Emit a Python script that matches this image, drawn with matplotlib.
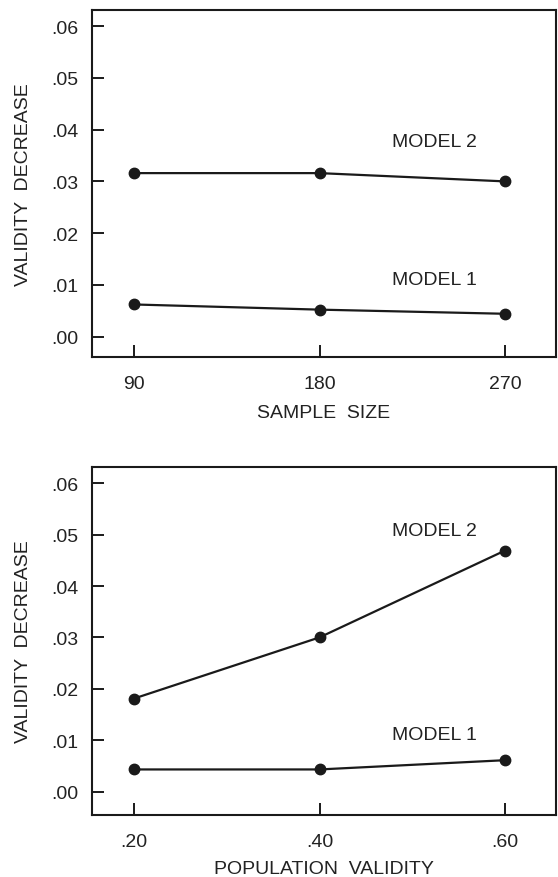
import matplotlib
matplotlib.use('Agg')
import matplotlib.pyplot as plt

plt.rcParams['font.family'] = ['Liberation Sans', 'DejaVu Sans']
plt.rcParams['font.size'] = 14

# top panel: validity decrease vs sample size
sample_sizes = [90, 180, 270]
sample_model1 = [0.0062, 0.0052, 0.0044]
sample_model2 = [0.0316, 0.0316, 0.0300]

# bottom panel: validity decrease vs population validity
pop_validity = [0.20, 0.40, 0.60]
pop_model1 = [0.0043, 0.0043, 0.0061]
pop_model2 = [0.0181, 0.0300, 0.0469]

y_ticks = [0.00, 0.01, 0.02, 0.03, 0.04, 0.05, 0.06]
y_tick_labels = ['.00', '.01', '.02', '.03', '.04', '.05', '.06']
pop_tick_labels = ['.20', '.40', '.60']

INK = '#1a1a1a'
TEXT = '#222222'


def style_axes(ax):
    for sp in ax.spines.values():
        sp.set_linewidth(1.5)
        sp.set_color(INK)
    ax.tick_params(direction='in', length=8.5, width=1.4, color=INK,
                   labelcolor=TEXT, labelsize=14)
    ax.tick_params(axis='y', pad=10)
    ax.tick_params(axis='x', pad=13)
    ax.set_yticks(y_ticks)
    ax.set_yticklabels(y_tick_labels)
    ax.set_ylabel('VALIDITY  DECREASE', color=TEXT, fontsize=14)
    ax.yaxis.set_label_coords(-0.129, 0.5)


def plot_models(ax, x, m1, m2):
    ax.plot(x, m1, '-o', color=INK, lw=1.6, ms=7.5)
    ax.plot(x, m2, '-o', color=INK, lw=1.6, ms=7.5)


fig = plt.figure(figsize=(5.58, 8.78), dpi=100)

ax1 = fig.add_axes([0.1649, 0.5926, 0.8315, 0.3952])
plot_models(ax1, sample_sizes, sample_model1, sample_model2)
ax1.set_xlim(69.6, 294.7)
ax1.set_ylim(-0.0039, 0.0632)
ax1.set_xticks(sample_sizes)
ax1.set_xticklabels([str(s) for s in sample_sizes])
style_axes(ax1)
ax1.set_xlabel('SAMPLE  SIZE', color=TEXT, fontsize=14)
ax1.xaxis.set_label_coords(0.5, -0.136)
ax1.text(235.5, 0.0378, 'MODEL 2', ha='center', va='center', color=TEXT, fontsize=14)
ax1.text(235.5, 0.0110, 'MODEL 1', ha='center', va='center', color=TEXT, fontsize=14)

ax2 = fig.add_axes([0.1649, 0.0710, 0.8315, 0.3956])
plot_models(ax2, pop_validity, pop_model1, pop_model2)
ax2.set_xlim(0.1547, 0.655)
ax2.set_ylim(-0.0045, 0.0631)
ax2.set_xticks(pop_validity)
ax2.set_xticklabels(pop_tick_labels)
style_axes(ax2)
ax2.set_xlabel('POPULATION  VALIDITY', color=TEXT, fontsize=14)
ax2.xaxis.set_label_coords(0.5, -0.130)
ax2.text(0.5235, 0.0509, 'MODEL 2', ha='center', va='center', color=TEXT, fontsize=14)
ax2.text(0.5235, 0.0111, 'MODEL 1', ha='center', va='center', color=TEXT, fontsize=14)

fig.savefig('out.png', dpi=100)
